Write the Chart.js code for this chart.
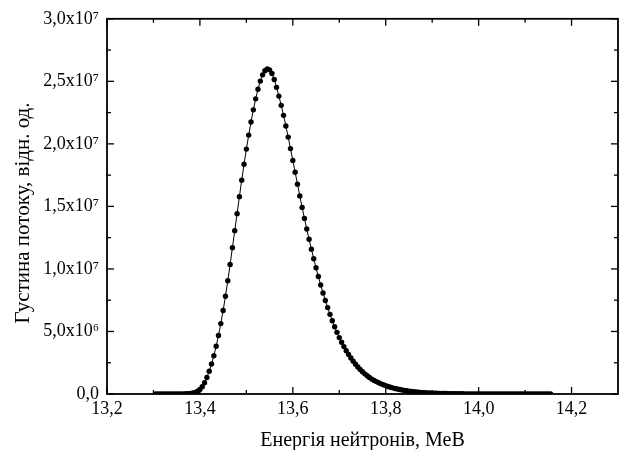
<!DOCTYPE html>
<html>
<head>
<meta charset="utf-8">
<script src="https://cdn.jsdelivr.net/npm/chart.js@4.4.0/dist/chart.umd.min.js"></script>
<style>
html,body{margin:0;padding:0;background:#fff;}
#wrap{width:628px;height:450px;}
</style>
</head>
<body>
<div id="wrap"><canvas id="c" width="628" height="450"></canvas></div>
<script>
// Energy (MeV)
const energy = [
13.305,13.31,13.315,13.32,13.325,13.33,13.335,13.34,13.345,13.35,
13.355,13.36,13.365,13.37,13.375,13.38,13.385,13.39,13.395,13.40,
13.405,13.41,13.415,13.42,13.425,13.43,13.435,13.44,13.445,13.45,
13.455,13.46,13.465,13.47,13.475,13.48,13.485,13.49,13.495,13.50,
13.505,13.51,13.515,13.52,13.525,13.53,13.535,13.54,13.545,13.55,
13.555,13.56,13.565,13.57,13.575,13.58,13.585,13.59,13.595,13.60,
13.605,13.61,13.615,13.62,13.625,13.63,13.635,13.64,13.645,13.65,
13.655,13.66,13.665,13.67,13.675,13.68,13.685,13.69,13.695,13.70,
13.705,13.71,13.715,13.72,13.725,13.73,13.735,13.74,13.745,13.75,
13.755,13.76,13.765,13.77,13.775,13.78,13.785,13.79,13.795,13.80,
13.805,13.81,13.815,13.82,13.825,13.83,13.835,13.84,13.845,13.85,
13.855,13.86,13.865,13.87,13.875,13.88,13.885,13.89,13.895,13.90,
13.905,13.91,13.915,13.92,13.925,13.93,13.935,13.94,13.945,13.95,
13.955,13.96,13.965,13.97,13.975,13.98,13.985,13.99,13.995,14.00,
14.005,14.01,14.015,14.02,14.025,14.03,14.035,14.04,14.045,14.05,
14.055,14.06,14.065,14.07,14.075,14.08,14.085,14.09,14.095,14.10,
14.105,14.11,14.115,14.12,14.125,14.13,14.135,14.14,14.145,14.15,
14.155
];
// Flux density, in units of 1e7
const fluxE7 = [
0.0001,0.0001,0.0001,0.0001,0.0001,0.0001,0.0001,0.0002,0.0002,0.0003,
0.0004,0.0006,0.0009,0.0014,0.0024,0.0042,0.0075,0.013,0.022,0.036,
0.058,0.090,0.132,0.182,0.240,0.306,0.382,0.468,0.563,0.668,
0.782,0.905,1.035,1.170,1.306,1.442,1.578,1.710,1.837,1.958,
2.070,2.175,2.272,2.360,2.437,2.502,2.552,2.585,2.600,2.592,
2.563,2.515,2.452,2.382,2.308,2.228,2.143,2.054,1.962,1.868,
1.773,1.678,1.584,1.492,1.404,1.319,1.237,1.158,1.082,1.009,
0.939,0.872,0.808,0.748,0.691,0.637,0.586,0.538,0.493,0.451,
0.414,0.379,0.346,0.316,0.288,0.262,0.238,0.216,0.196,0.178,
0.161,0.146,0.132,0.119,0.108,0.099,0.090,0.081,0.074,0.067,
0.060,0.054,0.049,0.044,0.040,0.036,0.032,0.029,0.026,0.023,
0.020,0.018,0.016,0.014,0.012,0.011,0.010,0.009,0.008,0.007,
0.006,0.0055,0.005,0.0045,0.004,0.0035,0.003,0.0027,0.0024,0.0021,
0.0019,0.0017,0.0015,0.0013,0.0012,0.0011,0.001,0.0009,0.0008,0.0007,
0.0007,0.0006,0.0006,0.0005,0.0005,0.0005,0.0004,0.0004,0.0004,0.0003,
0.0003,0.0003,0.0003,0.0003,0.0002,0.0002,0.0002,0.0002,0.0002,0.0002,
0.0002,0.0002,0.0001,0.0001,0.0001,0.0001,0.0001,0.0001,0.0001,0.0001,
0.0001
];
const xTickValues = [13.2, 13.4, 13.6, 13.8, 14.0, 14.2];
const xTickLabels = ["13,2", "13,4", "13,6", "13,8", "14,0", "14,2"];
const xMinorValues = [13.3, 13.5, 13.7, 13.9, 14.1];
const yTickValues = [0, 5e6, 1e7, 1.5e7, 2e7, 2.5e7, 3e7];
const yTickLabels = ["0,0", "5,0x10\u2076", "1,0x10\u2077", "1,5x10\u2077", "2,0x10\u2077", "2,5x10\u2077", "3,0x10\u2077"];
const yMinorValues = [2.5e6, 7.5e6, 1.25e7, 1.75e7, 2.25e7, 2.75e7];
const xTitle = "Енергія нейтронів, МеВ";
const yTitle = "Густина потоку, відн. од.";

const points = energy.map((e, i) => ({ x: e, y: fluxE7[i] * 1e7 }));
const FONT = "'Liberation Serif', 'Times New Roman', serif";

const framePlugin = {
  id: 'frame',
  afterDraw(chart) {
    const { ctx, chartArea: a, scales } = chart;
    const xs = scales.x, ys = scales.y;
    ctx.save();
    ctx.strokeStyle = '#000';
    ctx.lineWidth = 1.8;
    ctx.strokeRect(a.left, a.top, a.right - a.left, a.bottom - a.top);
    ctx.lineWidth = 1.3;
    const tick = (x1, y1, x2, y2) => { ctx.beginPath(); ctx.moveTo(x1, y1); ctx.lineTo(x2, y2); ctx.stroke(); };
    xTickValues.forEach(v => { const p = xs.getPixelForValue(v); tick(p, a.bottom, p, a.bottom - 7); tick(p, a.top, p, a.top + 7); });
    xMinorValues.forEach(v => { const p = xs.getPixelForValue(v); tick(p, a.bottom, p, a.bottom - 4); tick(p, a.top, p, a.top + 4); });
    yTickValues.forEach(v => { const p = ys.getPixelForValue(v); tick(a.left, p, a.left + 7, p); tick(a.right, p, a.right - 7, p); });
    yMinorValues.forEach(v => { const p = ys.getPixelForValue(v); tick(a.left, p, a.left + 4, p); tick(a.right, p, a.right - 4, p); });
    ctx.fillStyle = '#000';
    ctx.font = "20px " + FONT;
    ctx.textAlign = 'center';
    ctx.textBaseline = 'alphabetic';
    ctx.fillText(xTitle, (a.left + a.right) / 2, 446);
    ctx.font = "21px " + FONT;
    ctx.translate(29, 213);
    ctx.rotate(-Math.PI / 2);
    ctx.fillText(yTitle, 0, 0);
    ctx.restore();
  }
};

new Chart(document.getElementById('c'), {
  type: 'line',
  data: {
    datasets: [{
      data: points,
      borderColor: '#000',
      borderWidth: 1,
      pointRadius: 2.7,
      pointBackgroundColor: '#000',
      pointBorderWidth: 0,
      tension: 0,
      fill: false
    }]
  },
  options: {
    responsive: false,
    animation: false,
    events: [],
    layout: { padding: { left: 0, right: 10, top: 14, bottom: 0 } },
    plugins: { legend: { display: false }, tooltip: { enabled: false } },
    scales: {
      x: {
        type: 'linear',
        min: 13.2, max: 14.3,
        grid: { display: false, drawTicks: false },
        border: { display: false },
        afterBuildTicks: s => { s.ticks = xTickValues.map(v => ({ value: v })); },
        afterFit: s => { s.height = 56; },
        ticks: {
          color: '#000', padding: 4, maxRotation: 0, autoSkip: false,
          font: { family: FONT, size: 18 },
          callback: (v, i) => xTickLabels[i]
        }
      },
      y: {
        type: 'linear',
        min: 0, max: 3e7,
        grid: { display: false, drawTicks: false },
        border: { display: false },
        afterBuildTicks: s => { s.ticks = yTickValues.map(v => ({ value: v })); },
        afterFit: s => { s.width = 107; },
        ticks: {
          color: '#000', padding: 8, autoSkip: false,
          font: { family: FONT, size: 18 },
          callback: (v, i) => yTickLabels[i]
        }
      }
    }
  },
  plugins: [framePlugin]
});
</script>
</body>
</html>
